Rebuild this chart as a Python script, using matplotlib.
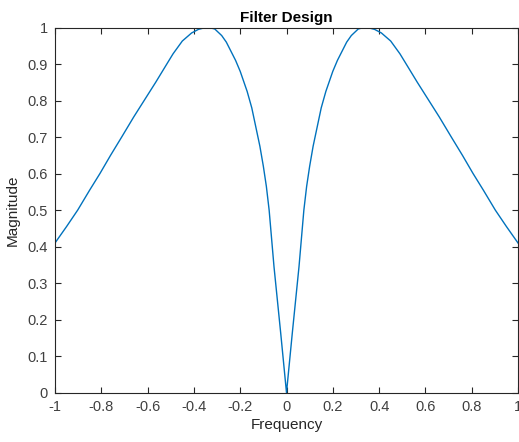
import matplotlib
matplotlib.use("Agg")
import matplotlib.pyplot as plt

# Values (frequency vs magnitude)
freq = [-1.0, -0.95, -0.902, -0.85, -0.806, -0.76, -0.712, -0.66, -0.615, -0.565,
        -0.517, -0.49, -0.45, -0.41, -0.38, -0.355, -0.335, -0.31, -0.28, -0.26,
        -0.24, -0.22, -0.20, -0.17, -0.15, -0.13, -0.115, -0.10, -0.087,
        -0.075, -0.054, -0.025, 0.0,
        0.025, 0.054, 0.075, 0.087, 0.10, 0.115, 0.13, 0.15, 0.17, 0.20,
        0.22, 0.24, 0.26, 0.28, 0.31, 0.335, 0.355, 0.38, 0.41, 0.45,
        0.49, 0.517, 0.565, 0.615, 0.66, 0.712, 0.76, 0.806, 0.85, 0.902,
        0.95, 1.0]
magnitude = [0.41, 0.455, 0.50, 0.555, 0.60, 0.65, 0.70, 0.755, 0.80, 0.85,
             0.90, 0.928, 0.963, 0.985, 0.995, 0.999, 1.0, 0.996, 0.978, 0.96,
             0.935, 0.91, 0.88, 0.825, 0.78, 0.72, 0.675, 0.62, 0.565,
             0.50, 0.345, 0.163, 0.0,
             0.163, 0.345, 0.50, 0.565, 0.62, 0.675, 0.72, 0.78, 0.825, 0.88,
             0.91, 0.935, 0.96, 0.978, 0.996, 1.0, 0.999, 0.995, 0.985, 0.963,
             0.928, 0.90, 0.85, 0.80, 0.755, 0.70, 0.65, 0.60, 0.555, 0.50,
             0.455, 0.41]
xticks = [-1, -0.8, -0.6, -0.4, -0.2, 0, 0.2, 0.4, 0.6, 0.8, 1]
xticklabels = ["-1", "-0.8", "-0.6", "-0.4", "-0.2", "0", "0.2", "0.4", "0.6", "0.8", "1"]
yticks = [0, 0.1, 0.2, 0.3, 0.4, 0.5, 0.6, 0.7, 0.8, 0.9, 1]
yticklabels = ["0", "0.1", "0.2", "0.3", "0.4", "0.5", "0.6", "0.7", "0.8", "0.9", "1"]

plt.rcParams['font.family'] = ['Liberation Sans', 'DejaVu Sans']

fig = plt.figure(figsize=(5.19, 4.42), dpi=100)
ax = fig.add_axes([55 / 519, 1 - 392.7 / 442, (518 - 55) / 519, (392.7 - 27.5) / 442])

ax.plot(freq, magnitude, color='#0072BD', lw=1.0)
ax.set_xlim(-1, 1)
ax.set_ylim(0, 1)
ax.set_xticks(xticks)
ax.set_xticklabels(xticklabels)
ax.set_yticks(yticks)
ax.set_yticklabels(yticklabels)

axcol = '#262626'
for s in ax.spines.values():
    s.set_color(axcol)
    s.set_linewidth(0.8)
ax.tick_params(direction='in', length=4, width=0.8, colors=axcol,
               labelsize=10.5, top=True, right=True, labelcolor='#404040')
ax.tick_params(axis='x', pad=5)
ax.tick_params(axis='y', pad=5)

ax.set_title("Filter Design", fontsize=11, fontweight='bold', color='black', pad=4)
ax.set_xlabel("Frequency", fontsize=11, color='#262626', labelpad=3)
ax.set_ylabel("Magnitude", fontsize=11, color='#262626', labelpad=6)

fig.savefig("out.png", dpi=100)
